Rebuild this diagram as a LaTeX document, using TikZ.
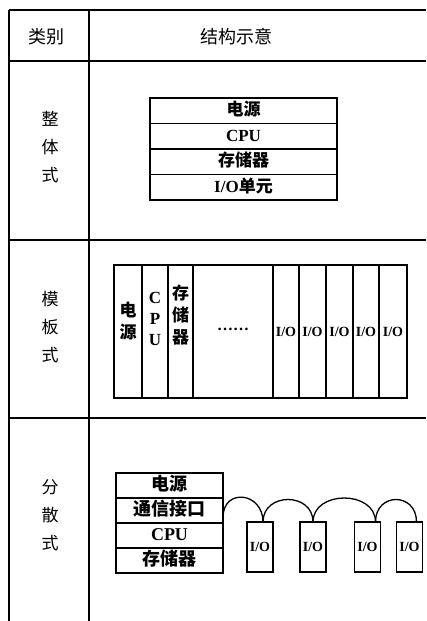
\documentclass[tikz,border=0pt]{standalone}
\usepackage{fontspec}
\setmainfont{Liberation Serif}
\newfontfamily\cjk{Noto Sans CJK SC}
\newcommand{\zh}[1]{{\cjk #1}}
\begin{document}
\begin{tikzpicture}[x=1bp,y=-1bp,
  grid/.style={line width=1.6bp},
  box/.style={draw,line width=1.3bp,inner sep=0pt,outer sep=0pt},
  hdr/.style={font=\cjk\fontsize{18bp}{18bp}\selectfont},
  lab/.style={font=\cjk\fontsize{17bp}{28bp}\selectfont,align=center,inner sep=0pt},
  rowa/.style={box,minimum width=187bp,minimum height=25.5bp,text height=12.5bp,text depth=2.5bp,
    font=\bfseries\fontsize{17bp}{17bp}\selectfont},
  slot/.style={box,minimum height=133bp,anchor=north west},
  vt/.style={align=center,inner sep=0pt,font=\bfseries\fontsize{17bp}{21bp}\selectfont},
  vtz/.style={vt,font=\cjk\bfseries\fontsize{17bp}{22bp}\selectfont},
  iot/.style={inner sep=0pt,font=\bfseries\fontsize{14bp}{14bp}\selectfont},
  rowc/.style={box,minimum width=107bp,minimum height=25bp,text height=13bp,text depth=3bp,
    font=\bfseries\fontsize{18bp}{18bp}\selectfont},
  iobox/.style={box,minimum width=26bp,minimum height=50bp,font=\bfseries\fontsize{14bp}{14bp}\selectfont},
  link/.style={line width=1.3bp}]
\useasboundingbox (0,0) rectangle (426,621);
\fill[white] (0,0) rectangle (426,621);
% table
\draw[grid] (9,10) -- (426,10);
\draw[grid] (9,61) -- (426,61);
\draw[grid] (9,240) -- (426,240);
\draw[grid] (9,418) -- (426,418);
\draw[grid] (9,10) -- (9,621);
\draw[grid] (89,10) -- (89,621);
\node[hdr] (h1) at (46,37) {类别};
\node[hdr] (h2) at (236,37) {结构示意};
\node[lab] (r1) at (50,147) {整\\体\\式};
\node[lab] (r2) at (50,327) {模\\板\\式};
\node[lab] (r3) at (50,515) {分\\散\\式};
% row 1
\node[rowa] (a1) at (243.5,110.75) {\zh{电源}};
\node[rowa,anchor=north] (a2) at (a1.south) {CPU};
\node[rowa,anchor=north] (a3) at (a2.south) {\zh{存储器}};
\node[rowa,anchor=north] (a4) at (a3.south) {I/O\zh{单元}};
% row 2
\node[slot,minimum width=28bp] (s1) at (114,265) {};
\node[slot,minimum width=26bp] (s2) at (s1.north east) {};
\node[slot,minimum width=25bp] (s3) at (s2.north east) {};
\node[slot,minimum width=80bp] (s4) at (s3.north east) {};
\node[slot,minimum width=26bp] (s5) at (s4.north east) {};
\node[slot,minimum width=27bp] (s6) at (s5.north east) {};
\node[slot,minimum width=27bp] (s7) at (s6.north east) {};
\node[slot,minimum width=26bp] (s8) at (s7.north east) {};
\node[slot,minimum width=28bp] (s9) at (s8.north east) {};
\node[vtz] (t1) at ([yshift=10bp]s1.center) {电\\源};
\node[vt] (t2) at ([yshift=13bp]s2.center) {C\\P\\U};
\node[vtz] (t3) at ([yshift=16bp]s3.center) {存\\储\\器};
\node[iot,font=\bfseries\fontsize{16bp}{16bp}\selectfont] (t4) at ([yshift=2bp]s4.center) {……};
\node[iot] (t5) at (s5.center) {I/O};
\node[iot] (t6) at (s6.center) {I/O};
\node[iot] (t7) at (s7.center) {I/O};
\node[iot] (t8) at (s8.center) {I/O};
\node[iot] (t9) at (s9.center) {I/O};
% row 3
\node[rowc] (c1) at (169.5,485.5) {\zh{电源}};
\node[rowc,anchor=north] (c2) at (c1.south) {\zh{通信接口}};
\node[rowc,anchor=north] (c3) at (c2.south) {CPU};
\node[rowc,anchor=north] (c4) at (c3.south) {\zh{存储器}};
\node[iobox] (d1) at (260,547) {I/O};
\node[iobox] (d2) at (313,547) {I/O};
\node[iobox] (d3) at (367.5,547) {I/O};
\node[iobox] (d4) at (409.5,547) {I/O};
\draw[link] ([yshift=-7bp]c2.east) .. controls +(0,-30) and +(0,-30) .. ([xshift=3bp]d1.north);
\draw[link] ([xshift=3bp]d1.north) .. controls +(0,-30) and +(0,-30) .. (d2.north);
\draw[link] (d2.north) .. controls +(0,-32) and +(0,-32) .. ([xshift=8bp]d3.north);
\draw[link] ([xshift=8bp]d3.north) .. controls +(0,-30) and +(0,-30) .. ([xshift=7bp]d4.north);
\end{tikzpicture}
\end{document}
